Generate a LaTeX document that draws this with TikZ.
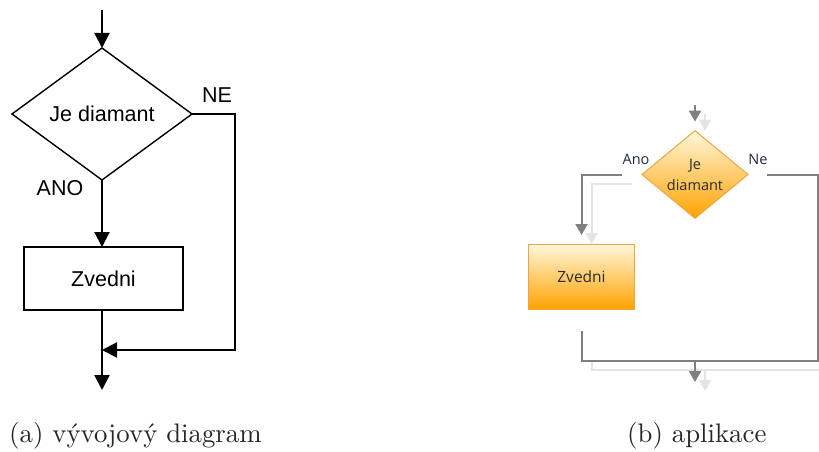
\documentclass[tikz,border=0pt]{standalone}
\usepackage{fontspec}
\newfontfamily\arialfont{Liberation Sans}
\newfontfamily\uifont{Open Sans}
\newfontfamily\capfont{lmroman10-regular}[Extension=.otf]
\usetikzlibrary{shapes.geometric,arrows.meta}
\pgfdeclarelayer{background}
\pgfsetlayers{background,main}

\definecolor{appgray}{HTML}{808080}
\definecolor{appshadow}{HTML}{E4E4E4}
\definecolor{appborder}{HTML}{EFA640}
\definecolor{apptop}{HTML}{FFF7DC}
\definecolor{appbottom}{HTML}{FFA300}
\definecolor{apptext}{HTML}{2A2A2A}
\definecolor{applabel}{HTML}{1F2A44}

\tikzset{
  flowline/.style={line width=2.2pt, draw=black},
  flowarrow/.style={flowline, -{Triangle[width=15pt,length=15pt]}},
  flowfont/.style={font=\arialfont\fontsize{21.5}{24}\selectfont},
  flowdia/.style={flowfont, diamond, draw=black, line width=1.4pt,
    minimum width=180pt, minimum height=132pt, inner sep=0pt, outer sep=0pt},
  flowbox/.style={flowfont, rectangle, draw=black, line width=1.6pt,
    minimum width=159pt, minimum height=63pt, inner sep=0pt, outer sep=0pt},
  flowlabel/.style={flowfont, inner sep=0pt},
  appfont/.style={font=\uifont\fontsize{14.5}{21}\selectfont, text=apptext},
  appline/.style={line width=2pt, draw=appgray},
  apparrow/.style={appline, -{Triangle[width=12pt,length=11pt]}},
  appshline/.style={line width=2pt, draw=appshadow},
  appsharrow/.style={appshline, -{Triangle[width=12pt,length=11pt]}},
  appdia/.style={appfont, diamond, draw=appborder, line width=1pt,
    top color=apptop, bottom color=appbottom, align=center,
    minimum width=106pt, minimum height=65pt, inner sep=0pt, outer sep=0pt},
  appbox/.style={appfont, font=\uifont\fontsize{15.5}{21}\selectfont,
    rectangle, draw=appborder, line width=1pt,
    top color=apptop, bottom color=appbottom,
    minimum width=106pt, minimum height=65pt, inner sep=0pt, outer sep=0pt},
  applabelstyle/.style={font=\uifont\fontsize{14.5}{17}\selectfont, text=applabel, inner sep=0pt},
  captext/.style={font=\capfont\fontsize{26.8}{31}\selectfont, text=black!85, inner sep=0pt},
}

\begin{document}
\begin{tikzpicture}[x=1pt,y=-1pt]
\useasboundingbox (0,0) rectangle (819,452);

% ---------- (a) flowchart ----------
\coordinate (s1) at (102,10);
\node[flowdia] (d1) at (102,114) {Je diamant};
\node[flowbox] (b1) at (103.5,278.5) {Zvedni};
\coordinate (c1) at (235,350);
\coordinate (m1) at (102,350);
\coordinate (e1) at (102,390);

\draw[flowarrow] (s1) -- (d1.north);
\draw[flowarrow] (d1.south) -- (d1.south |- b1.north);
\draw[flowarrow] (d1.east) -| (c1) -- (m1);
\draw[flowarrow] (b1.south -| m1) -- (e1);

\node[flowlabel] (ne) at (217,95) {NE};
\node[flowlabel] (ano) at (60,188) {ANO};

% ---------- (b) application ----------
\coordinate (s2) at (695,105);
\node[appdia] (d2) at (695,174.5) {Je\\diamant};
\node[appbox] (b2) at (581.5,276.5) {Zvedni};
\coordinate (r2) at (818,174.5);
\coordinate (rb2) at (818,361);
\coordinate (lb2) at (581.5,361);
\coordinate (m2) at (695,361);
\coordinate (e2) at (695,382);

% drop shadows of the connectors
\begin{pgfonlayer}{background}
\draw[appsharrow, shorten >=9pt] ([shift={(10,9)}]s2) -- ([shift={(10,9)}]d2.north);
\draw[appsharrow, shorten <=20pt, shorten >=9pt]
  ([shift={(10,9)}]d2.west) -| ([shift={(10,9)}]b2.north);
\draw[appshline] ([shift={(10,0)}]lb2) -- ([shift={(10,9)}]lb2) -- ([shift={(10,9)}]rb2);
\draw[appsharrow] ([shift={(10,9)}]m2) -- ([shift={(10,9)}]e2);
\end{pgfonlayer}

\draw[apparrow, shorten >=9pt] (s2) -- (d2.north);
\draw[apparrow, shorten <=20pt, shorten >=9pt] (d2.west) -| (b2.north);
\draw[appline, shorten <=19pt, shorten >=22pt]
  (d2.east) -- (r2) -- (rb2) -- (lb2) -- (b2.south);
\draw[apparrow] (m2) -- (e2);

\node[applabelstyle] (ano2) at (636,159) {Ano};
\node[applabelstyle] (ne2) at (758,159) {Ne};

% ---------- captions ----------
\node[captext, anchor=base west] (capa) at (9,442) {(a) vývojový diagram};
\node[captext, anchor=base west] (capb) at (627,442) {(b) aplikace};
\end{tikzpicture}
\end{document}
